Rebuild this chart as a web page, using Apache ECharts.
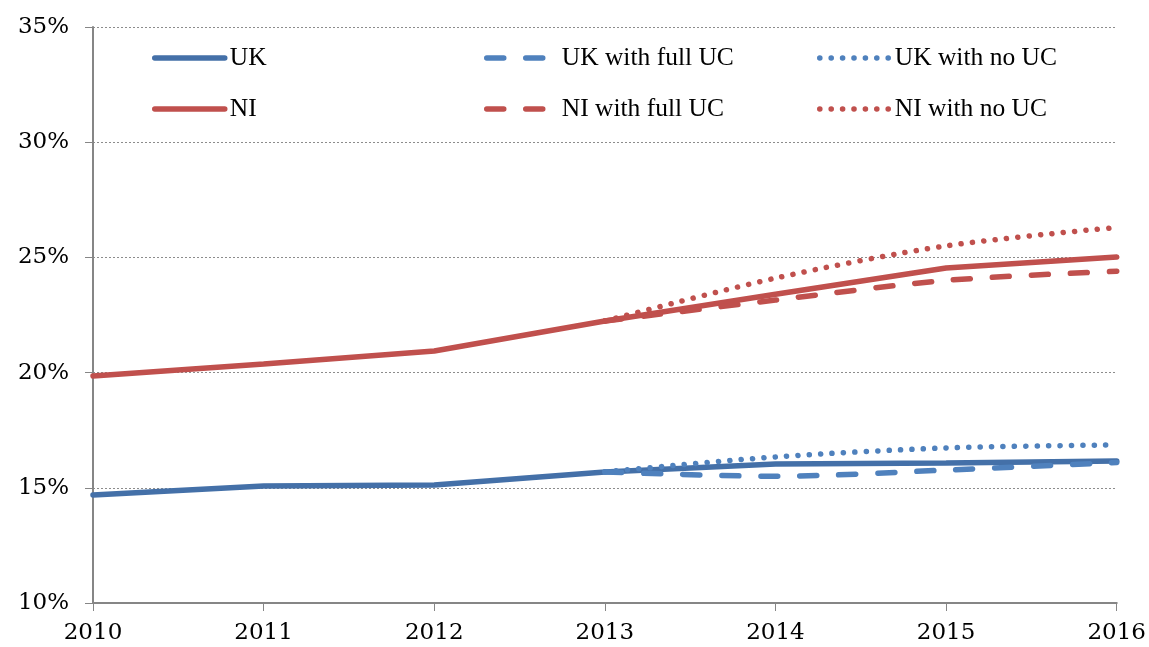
<!DOCTYPE html>
<html>
<head>
<meta charset="utf-8">
<script src="https://cdn.jsdelivr.net/npm/echarts@6/dist/echarts.min.js"></script>
<style>
  html, body { margin: 0; padding: 0; background: #fff; }
  #chart { width: 1149px; height: 647px; }
</style>
</head>
<body>
<div id="chart"></div>
<script>
  // data
  const years = ['2010', '2011', '2012', '2013', '2014', '2015', '2016']
  const uk = [14.69, 15.08, 15.12, 15.69, 16.03, 16.08, 16.16]
  const ukFullUC = [null, null, null, 15.69, 15.5, 15.77, 16.1]
  const ukNoUC = [null, null, null, 15.69, 16.34, 16.73, 16.86]
  const ni = [19.85, 20.37, 20.94, 22.24, 23.4, 24.54, 25.02]
  const niFullUC = [null, null, null, 22.24, 23.15, 24.0, 24.4]
  const niNoUC = [null, null, null, 22.24, 24.1, 25.5, 26.3]

  const blueDark = '#4470a8'
  const blue = '#4f81bd'
  const red = '#c0504d'
  const axisFont = 'DejaVu Serif'
  const legendFont = 'Liberation Serif'
  const dashed = [17, 22]
  const dotted = [0.1, 11.3]

  const chart = echarts.init(document.getElementById('chart'))

  function legendAt(name, left, top, color, type) {
    return {
      data: [name],
      left: left,
      top: top,
      padding: 0,
      itemWidth: 70,
      itemHeight: 10,
      itemStyle: { opacity: 0, borderWidth: 0 },
      lineStyle: { color: color, width: 5.5, type: type, cap: 'round' },
      textStyle: { fontFamily: legendFont, fontSize: 25.5, color: '#000' }
    }
  }

  function mkLine(name, data, color, type, smooth) {
    return {
      name: name,
      type: 'line',
      data: data,
      symbol: 'none',
      smooth: smooth,
      connectNulls: false,
      lineStyle: { color: color, width: 5.5, type: type, cap: 'round' },
      itemStyle: { color: color }
    }
  }

  const option = {
    animation: false,
    backgroundColor: '#fff',
    grid: { left: 93, right: 32, top: 27, bottom: 44 },
    legend: [
      legendAt('UK', 152, 45, blueDark, 'solid'),
      legendAt('UK with full UC', 484, 45, blue, dashed),
      legendAt('UK with no UC', 817, 45, blue, dotted),
      legendAt('NI', 152, 96, red, 'solid'),
      legendAt('NI with full UC', 484, 96, red, dashed),
      legendAt('NI with no UC', 817, 96, red, dotted)
    ],
    xAxis: {
      type: 'category',
      data: years,
      boundaryGap: false,
      axisLine: { lineStyle: { color: '#868686', width: 2 } },
      axisTick: { show: true, length: 8, lineStyle: { color: '#868686', width: 1 } },
      axisLabel: { fontFamily: axisFont, fontSize: 23, color: '#000', margin: 19 },
      splitLine: { show: false }
    },
    yAxis: {
      type: 'value',
      min: 10,
      max: 35,
      interval: 5,
      axisLine: { show: true, lineStyle: { color: '#868686', width: 2 } },
      axisTick: { show: true, length: 8, lineStyle: { color: '#868686', width: 1 } },
      axisLabel: { fontFamily: axisFont, fontSize: 23, color: '#000', margin: 24, formatter: '{value}%' },
      splitLine: { lineStyle: { color: '#8c8c8c', type: [2, 2], width: 1 } }
    },
    series: [
      mkLine('UK', uk, blueDark, 'solid', false),
      mkLine('UK with full UC', ukFullUC, blue, dashed, 0.3),
      mkLine('UK with no UC', ukNoUC, blue, dotted, 0.3),
      mkLine('NI', ni, red, 'solid', false),
      mkLine('NI with full UC', niFullUC, red, dashed, 0.3),
      mkLine('NI with no UC', niNoUC, red, dotted, 0.3)
    ]
  }

  chart.setOption(option)
</script>
</body>
</html>
